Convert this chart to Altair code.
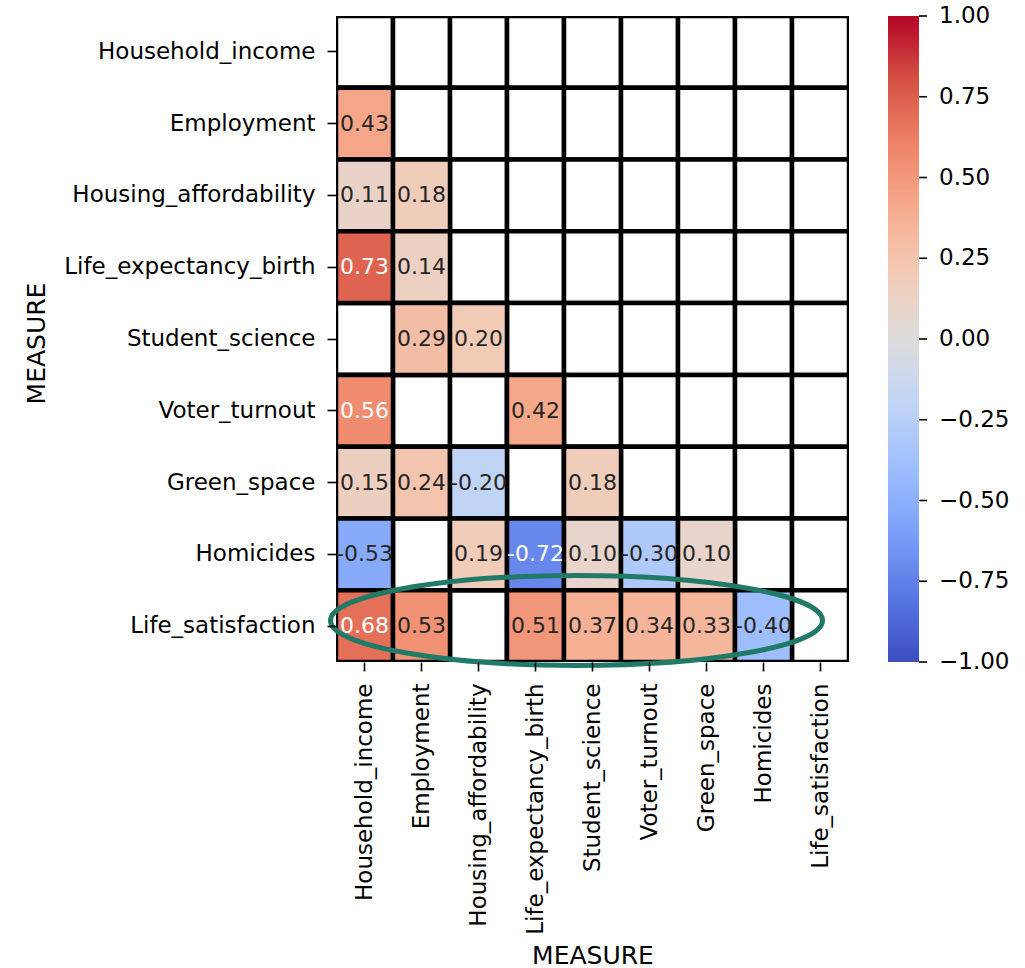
import altair as alt
import pandas as pd

measures = [
    "Household_income", "Employment", "Housing_affordability",
    "Life_expectancy_birth", "Student_science", "Voter_turnout",
    "Green_space", "Homicides", "Life_satisfaction",
]

# Lower-triangle correlations (None = blank cell), one list per row, columns in `measures` order
row_household_income      = [None, None, None, None, None, None, None, None, None]
row_employment            = [0.43, None, None, None, None, None, None, None, None]
row_housing_affordability = [0.11, 0.18, None, None, None, None, None, None, None]
row_life_expectancy_birth = [0.73, 0.14, None, None, None, None, None, None, None]
row_student_science       = [None, 0.29, 0.20, None, None, None, None, None, None]
row_voter_turnout         = [0.56, None, None, 0.42, None, None, None, None, None]
row_green_space           = [0.15, 0.24, -0.20, None, 0.18, None, None, None, None]
row_homicides             = [-0.53, None, 0.19, -0.72, 0.10, -0.30, 0.10, None, None]
row_life_satisfaction     = [0.68, 0.53, None, 0.51, 0.37, 0.34, 0.33, -0.40, None]

rows = [
    row_household_income, row_employment, row_housing_affordability,
    row_life_expectancy_birth, row_student_science, row_voter_turnout,
    row_green_space, row_homicides, row_life_satisfaction,
]

# coolwarm colour stops
cw_colors = ["#3b4cc0", "#5977e3", "#7b9ff9", "#9ebeff", "#c0d4f5", "#dddcdc",
             "#f2cbb7", "#f7ac8e", "#ee8468", "#d65244", "#b40426"]
cw_domain = [-1.0, -0.8, -0.6, -0.4, -0.2, 0.0, 0.2, 0.4, 0.6, 0.8, 1.0]
colorbar_ticks = [-1.0, -0.75, -0.5, -0.25, 0.0, 0.25, 0.5, 0.75, 1.0]
# legend label positions (ends nudged inward a hair so the end labels stay centred on their ticks)
legend_label_values = [-0.9995, -0.75, -0.5, -0.25, 0.0, 0.25, 0.5, 0.75, 0.9995]

records = []
for r_name, vals in zip(measures, rows):
    for c_name, v in zip(measures, vals):
        records.append({"row": r_name, "col": c_name, "value": v})
df = pd.DataFrame(records)

FONT = "DejaVu Sans"
W, H = 513, 646
FS = 23
TFS = 25

x_enc = alt.X("col:N", sort=measures, title="MEASURE",
              scale=alt.Scale(paddingInner=0, paddingOuter=0),
              axis=alt.Axis(labelAngle=-90, tickSize=9, tickWidth=1.6, tickColor="black",
                            labelPadding=12, domain=False, labelLimit=400,
                            titleX=256.5, titleY=293, titleBaseline="middle", titleAlign="center",
                            labelFontSize=FS, titleFontSize=TFS, labelColor="black",
                            titleColor="black", labelFont=FONT, titleFont=FONT,
                            titleFontWeight="normal"))
y_enc = alt.Y("row:N", sort=measures, title="MEASURE",
              scale=alt.Scale(paddingInner=0, paddingOuter=0),
              axis=alt.Axis(tickSize=9, tickWidth=1.6, tickColor="black",
                            labelPadding=12, domain=False, labelLimit=400,
                            titleX=-300, titleY=327, titleBaseline="middle", titleAlign="center",
                            titleAngle=270,
                            labelFontSize=FS, titleFontSize=TFS, labelColor="black",
                            titleColor="black", labelFont=FONT, titleFont=FONT,
                            titleFontWeight="normal"))

base = alt.Chart(df).encode(x=x_enc, y=y_enc)

blank = base.mark_rect(fill="white", stroke="black", strokeWidth=4.5, clip=True)

colored = base.transform_filter("isValid(datum.value)").mark_rect(
    stroke="black", strokeWidth=4.5, clip=True
).encode(
    color=alt.Color("value:Q",
                    scale=alt.Scale(domain=cw_domain, range=cw_colors, interpolate="rgb"),
                    legend=alt.Legend(title=None, orient="none", legendX=552, legendY=0,
                                      direction="vertical", gradientLength=H,
                                      gradientThickness=31, gradientStrokeWidth=0,
                                      values=legend_label_values, format=".2f",
                                      labelFontSize=FS, labelFont=FONT, labelColor="black",
                                      labelBaseline="middle",
                                      labelOffset=20, labelOverlap=False))
)

text = base.transform_filter("isValid(datum.value)").transform_calculate(
    label="replace(format(datum.value, '.2f'), '\u2212', '-')"
).mark_text(
    font=FONT, fontSize=22
).encode(
    text=alt.Text("label:N"),
    color=alt.condition("abs(datum.value) > 0.55", alt.value("white"), alt.value("#262626")),
)

ellipse = alt.Chart(pd.DataFrame({"k": [0]})).mark_point(
    shape="M -1 0 A 1 0.183 0 1 0 1 0 A 1 0.183 0 1 0 -1 0 Z",
    filled=False, stroke="#217a67", strokeWidth=5, opacity=1,
).encode(
    x=alt.value(240.5), y=alt.value(604.5), size=alt.value(492 * 492),
)

heatmap = alt.layer(blank, colored, text, ellipse)

# small tick marks on the colour bar, positioned through a [-1, 1] linear scale
cbar_ticks = alt.Chart(pd.DataFrame({"t": colorbar_ticks})).mark_rule(
    color="black", strokeWidth=1.6
).encode(
    y=alt.Y("t:Q", scale=alt.Scale(domain=[-1, 1], nice=False, zero=False), axis=None),
    x=alt.value(583), x2=alt.value(591),
)

chart = alt.layer(heatmap, cbar_ticks).resolve_scale(
    y="independent"
).properties(
    width=W, height=H,
    autosize=alt.AutoSizeParams(type="none"),
    padding={"left": 336, "top": 16, "right": 176, "bottom": 306},
).configure_view(stroke=None)

chart.save("out.html", embed_options={"renderer": "svg", "actions": False})
